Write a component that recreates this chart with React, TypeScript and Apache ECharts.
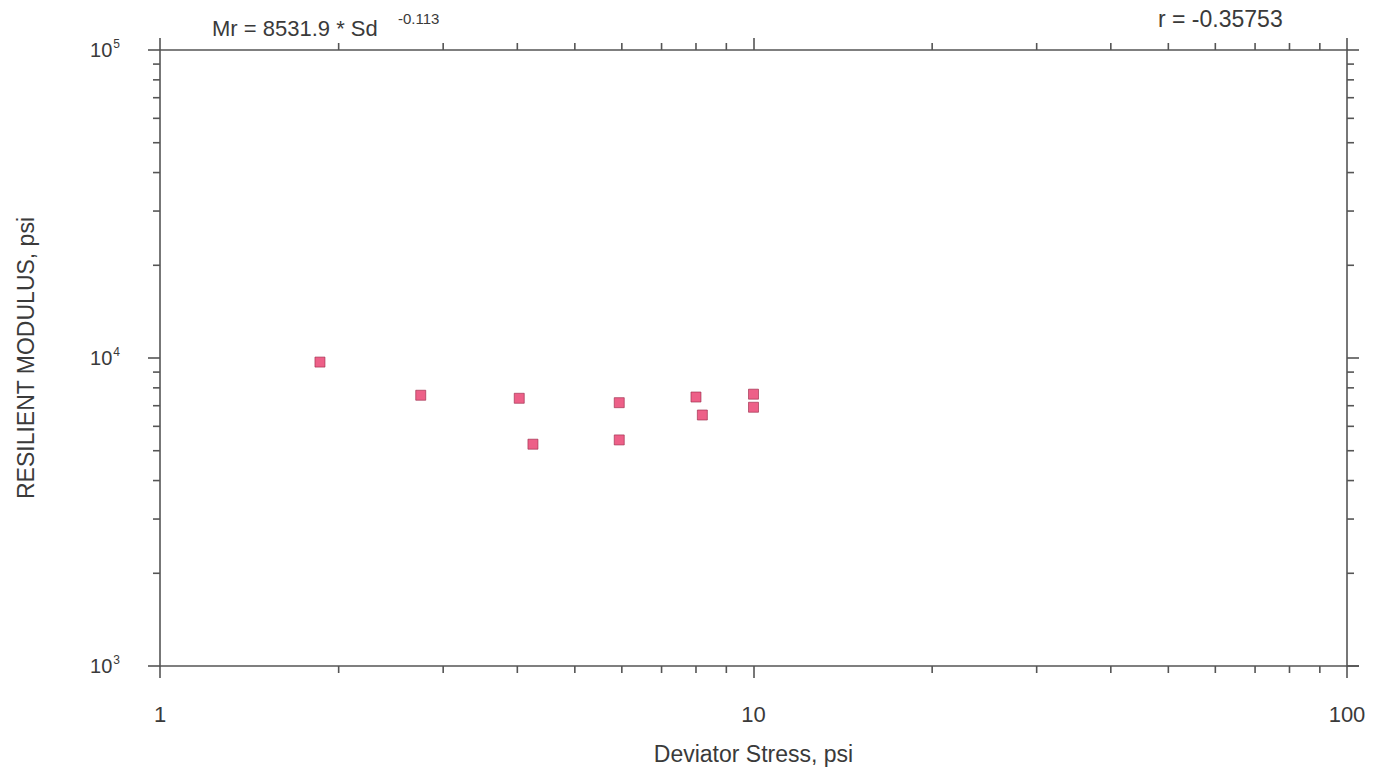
import React, { useEffect, useRef } from "react";
import * as echarts from "echarts";

const deviatorStress = [1.86, 2.75, 4.03, 4.25, 5.94, 5.94, 8.0, 8.2, 10.0, 10.0];
const resilientModulus = [9700, 7570, 7400, 5250, 7160, 5420, 7470, 6530, 7630, 6920];
const xMinorTicks = [2, 3, 4, 5, 6, 7, 8, 9, 20, 30, 40, 50, 60, 70, 80, 90];
const yMinorTicks = [2000, 3000, 4000, 5000, 6000, 7000, 8000, 9000, 20000, 30000, 40000, 50000, 60000, 70000, 80000, 90000];
const equationText = "Mr = 8531.9 * Sd";
const exponentText = "-0.113";
const correlationText = "r = -0.35753";
const xName = "Deviator Stress, psi";
const yName = "RESILIENT MODULUS, psi";

const FONT = "Liberation Sans, Arial, sans-serif";
const AX = "#555";
const TXT = "#3a3a3a";

export default function App() {
  const ref = useRef<HTMLDivElement>(null);
  useEffect(() => {
    const chart = echarts.init(ref.current!, null, { renderer: "svg" });
    const tickData: any[] = [];
    xMinorTicks.forEach((v) => {
      tickData.push([v, 1000, "b"]);
      tickData.push([v, 100000, "t"]);
    });
    yMinorTicks.forEach((v) => {
      tickData.push([1, v, "l"]);
      tickData.push([100, v, "r"]);
    });
    const axisCommon = {
      type: "log" as const,
      logBase: 10,
      axisLine: { show: true, lineStyle: { color: AX, width: 1.6 } },
      axisTick: { show: true, inside: false, length: 12, lineStyle: { color: AX, width: 1.6 } },
      splitLine: { show: false },
    };
    chart.setOption({
      animation: false,
      backgroundColor: "#fff",
      textStyle: { fontFamily: FONT },
      grid: { left: 160, right: 32, top: 50, bottom: 111 },
      xAxis: [
        {
          ...axisCommon,
          position: "bottom",
          min: 1,
          max: 100,
          axisLabel: { color: TXT, fontSize: 22, margin: 37, fontFamily: FONT },
          name: xName,
          nameLocation: "middle",
          nameGap: 76,
          nameTextStyle: { color: TXT, fontSize: 23, fontFamily: FONT },
        },
        {
          ...axisCommon,
          position: "top",
          min: 1,
          max: 100,
          axisLabel: { show: false },
        },
      ],
      yAxis: [
        {
          ...axisCommon,
          position: "left",
          min: 1000,
          max: 100000,
          axisLabel: {
            color: TXT,
            fontSize: 20,
            margin: 40,
            fontFamily: FONT,
            formatter: (v: number) => "10{e|" + Math.round(Math.log10(v)) + "}",
            rich: {
              e: { fontSize: 12, color: TXT, fontFamily: FONT, padding: [0, 0, 12, 1] },
            },
          },
          name: yName,
          nameLocation: "middle",
          nameGap: 123,
          nameRotate: 90,
          nameTextStyle: { color: TXT, fontSize: 23, fontFamily: FONT },
        },
        {
          ...axisCommon,
          position: "right",
          min: 1000,
          max: 100000,
          axisLabel: { show: false },
        },
      ],
      graphic: [
        {
          type: "text",
          x: 212,
          y: 28,
          style: { text: equationText, fontSize: 22, fill: TXT, fontFamily: FONT, verticalAlign: "middle" },
        },
        {
          type: "text",
          x: 398,
          y: 18,
          style: { text: exponentText, fontSize: 15, fill: TXT, fontFamily: FONT, verticalAlign: "middle" },
        },
        {
          type: "text",
          x: 1158,
          y: 19,
          style: { text: correlationText, fontSize: 23, fill: TXT, fontFamily: FONT, verticalAlign: "middle" },
        },
      ],
      series: [
        {
          type: "custom",
          xAxisIndex: 0,
          yAxisIndex: 0,
          clip: false,
          silent: true,
          data: tickData,
          renderItem: (params: any, api: any) => {
            const side = tickData[params.dataIndex][2];
            const p = api.coord([api.value(0), api.value(1)]);
            const L = 7;
            let x2 = p[0];
            let y2 = p[1];
            if (side === "b") y2 += L;
            else if (side === "t") y2 -= L;
            else if (side === "l") x2 -= L;
            else x2 += L;
            return {
              type: "line",
              shape: { x1: p[0], y1: p[1], x2, y2 },
              style: { stroke: AX, lineWidth: 1.6 },
            };
          },
        },
        {
          type: "scatter",
          xAxisIndex: 0,
          yAxisIndex: 0,
          symbol: "rect",
          symbolSize: 10,
          itemStyle: { color: "#e8386a", borderColor: "#9c2a4a", borderWidth: 0.8 },
          data: deviatorStress.map((x, i) => [x, resilientModulus[i]]),
        },
      ],
    });
    return () => chart.dispose();
  }, []);
  return (
    <div
      ref={ref}
      style={{ position: "fixed", left: 0, top: 0, width: 1379, height: 777 }}
    />
  );
}
